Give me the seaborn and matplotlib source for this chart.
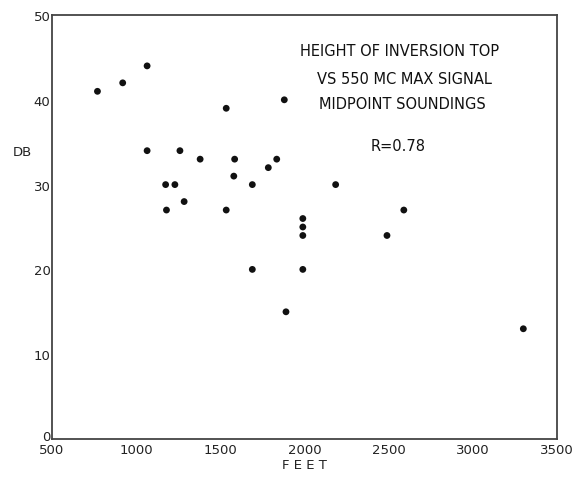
import matplotlib
matplotlib.use("Agg")
import matplotlib.pyplot as plt
import matplotlib.transforms as mtransforms
import seaborn as sns
import pandas as pd

# Data (height of inversion top in feet vs max signal in DB)
feet = [770, 920, 1065, 1065, 1175, 1230, 1260, 1180, 1285, 1380,
        1535, 1535, 1585, 1580, 1690, 1690, 1785, 1835, 1880, 1890,
        1990, 1990, 1990, 1990, 2185, 2490, 2590, 3300]
db = [41, 42, 44, 34, 30, 30, 34, 27, 28, 33,
      39, 27, 33, 31, 30, 20, 32, 33, 40, 15,
      26, 25, 24, 20, 30, 24, 27, 13]
x_ticks = [500, 1000, 1500, 2000, 2500, 3000, 3500]
y_ticks = [0, 10, 20, 30, 40, 50]
title_lines = ["HEIGHT OF INVERSION TOP", "VS 550 MC MAX SIGNAL", "MIDPOINT SOUNDINGS"]
r_text = "R=0.78"

df = pd.DataFrame({"FEET": feet, "DB": db})

sns.set_theme(style="white")
plt.rcParams['font.family'] = ['DejaVu Sans']

fig = plt.figure(figsize=(5.87, 4.81), dpi=100)
ax = fig.add_axes([52 / 587, 1 - 440 / 481, (557 - 52) / 587, (440 - 16) / 481])

sns.scatterplot(data=df, x="FEET", y="DB", ax=ax, color="#111111",
                s=24, edgecolor="none", legend=False)

ax.set_xlim(500, 3500)
ax.set_ylim(0, 50)
ax.set_xticks(x_ticks)
ax.set_yticks(y_ticks)
ax.set_xticklabels([str(t) for t in x_ticks], fontsize=9.5, color="#222222")
ax.set_yticklabels([str(t) for t in y_ticks], fontsize=9.5, color="#222222")
ax.tick_params(axis="both", direction="in", length=6, width=1.2, color="#444444", pad=3)
ax.tick_params(axis="y", pad=1)

# nudge the "0" label up so it does not collide with "500"
zero_lbl = ax.get_yticklabels()[0]
zero_lbl.set_transform(zero_lbl.get_transform() +
                       mtransforms.ScaledTranslation(0, 4 / 100, fig.dpi_scale_trans))

for side in ["left", "bottom", "top", "right"]:
    ax.spines[side].set_visible(True)
    ax.spines[side].set_color("#444444")
    ax.spines[side].set_linewidth(1.3)

ax.set_xlabel("F E E T", fontsize=9.5, color="#222222", labelpad=1)
ax.set_ylabel("")
fig.text(22 / 587, 1 - 152 / 481, "DB", fontsize=9.5, color="#222222",
         ha="center", va="center")

# Annotation block (pixel positions converted to axes fractions)
def ax_frac(px, py):
    return ((px - 52) / (557 - 52), (440 - py) / (440 - 16))

for txt, (px, py) in zip(title_lines, [(400, 52), (404, 80), (402, 105)]):
    ax.text(*ax_frac(px, py), txt, transform=ax.transAxes, ha="center",
            va="center", fontsize=10.5, color="#111111")
ax.text(*ax_frac(398, 147), r_text, transform=ax.transAxes, ha="center",
        va="center", fontsize=10.5, color="#111111")

fig.savefig("out.png", dpi=100, facecolor="white")
